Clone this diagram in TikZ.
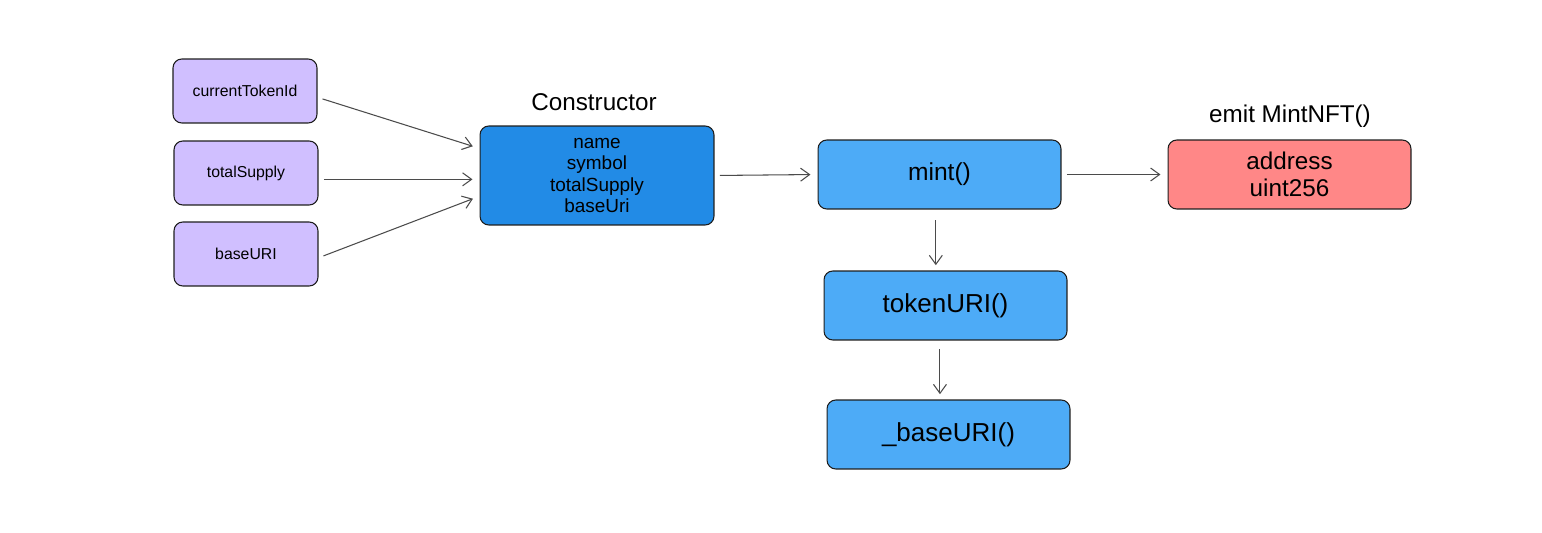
\documentclass[tikz,border=0pt]{standalone}
\usepackage{fontspec}
\setmainfont{Liberation Sans}
\usetikzlibrary{arrows.meta}
\definecolor{varfill}{HTML}{D0BFFF}
\definecolor{ctorfill}{HTML}{228BE6}
\definecolor{fnfill}{HTML}{4DABF7}
\definecolor{evtfill}{HTML}{FF8787}
\definecolor{inkgray}{HTML}{1E1E1E}

\begin{document}
\begin{tikzpicture}[x=0.02cm, y=-0.02cm,
  box/.style={draw=inkgray, line width=0.6pt, rounded corners=5pt, align=center, inner sep=0pt},
  varbox/.style={box, fill=varfill, minimum width=2.88cm, minimum height=1.28cm, font=\fontsize{9}{10}\selectfont},
  fnbox/.style={box, fill=fnfill, minimum width=4.86cm, minimum height=1.38cm, font=\fontsize{14}{16}\selectfont},
  title/.style={font=\fontsize{13.8}{15}\selectfont},
  flow/.style={-{Straight Barb[length=1.8mm, width=2.6mm]}, line width=0.6pt, draw=inkgray!80, shorten <=3pt, shorten >=4pt}]
  \useasboundingbox (0,0) rectangle (1542,533);
  \node[varbox] (tokenid) at (245,91) {currentTokenId};
  \node[varbox] (supply) at (246,173) {totalSupply};
  \node[varbox] (baseuri) at (246,254) {baseURI};
  \node[box, fill=ctorfill, minimum width=4.68cm, minimum height=1.98cm, font=\fontsize{10.8}{12}\selectfont] (ctor) at (597,175.5) {name\\symbol\\totalSupply\\baseUri};
  \node[title] (ctortitle) at (594,102) {Constructor};
  \node[fnbox] (mint) at (939.5,174.5) {mint()};
  \node[fnbox, fill=evtfill, font=\fontsize{13.8}{15}\selectfont] (emit) at (1289.5,174.5) {address\\uint256};
  \node[title] (emittitle) at (1290,116) {emit MintNFT()};
  \node[fnbox, font=\fontsize{14.8}{16}\selectfont] (tokuri) at (945.5,305.5) {tokenURI()};
  \node[fnbox, font=\fontsize{14.8}{16}\selectfont] (baseurifn) at (948.5,434.5) {\_baseURI()};
  \draw[flow] (tokenid.-5) -- (ctor.167);
  \draw[flow] (supply.-5) -- (supply.-5 -| ctor.west);
  \draw[flow] (baseuri.-3) -- (ctor.190);
  \draw[flow] (ctor.east) -- (mint.west);
  \draw[flow] (mint.east) -- (emit.west);
  \draw[flow, shorten <=6pt, shorten >=3pt] (mint.-96) -- (mint.-96 |- tokuri.north);
  \draw[flow, shorten <=5pt, shorten >=3pt] (tokuri.-99) -- (tokuri.-99 |- baseurifn.north);
\end{tikzpicture}
\end{document}
